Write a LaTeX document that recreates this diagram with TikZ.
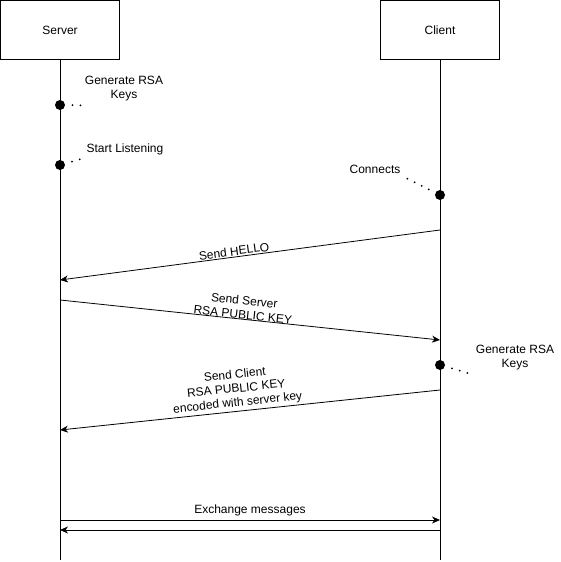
\documentclass[tikz,border=0pt]{standalone}
\usepackage{fontspec}
\setmainfont{Liberation Sans}
\usetikzlibrary{arrows.meta}

\begin{document}
\begin{tikzpicture}[x=1pt,y=-1pt,line width=1pt,
		every node/.style={font=\fontsize{12}{14}\selectfont},
		box/.style={draw,minimum width=119pt,minimum height=59pt,inner sep=0pt},
		event/.style={circle,fill,inner sep=0pt,minimum size=10pt},
		dotline/.style={line width=2pt,dash pattern=on 0pt off 8pt,line cap=round},
		msg/.style={-{Stealth[length=8pt,width=7pt,inset=2.5pt]},line width=0.8pt}]
		\useasboundingbox (0,0) rectangle (561,562);
		% participants
		\node[box] (server) at (60,30) {Server};
		\node[box] (client) at (440,30) {Client};
		\coordinate (serverEnd) at (60,560);
		\coordinate (clientEnd) at (440,560);
		\draw (server.south) -- (serverEnd);
		\draw (client.south) -- (clientEnd);
		% events on the lifelines
		\foreach \name/\point in {keysS/{(60,105)},listen/{(60,165)},connect/{(440,195)},keysC/{(440,365)}} {
				\node[event] (\name) at \point {};
			}
		\node[align=center] (keysSText) at (124,89) {Generate RSA\\Keys};
		\node (listenText) at (125,149) {Start Listening};
		\node (connectText) at (375,169) {Connects};
		\node[align=center] (keysCText) at (515,358) {Generate RSA\\Keys};
		\draw[dotline,shorten <=7pt] (keysS) -- (keysSText.south west);
		\draw[dotline,shorten <=7pt] (listen) -- (listenText.south west);
		\draw[dotline,shorten <=7pt,shorten >=3pt] (connect) -- (connectText.south east);
		\draw[dotline,shorten <=7pt] (keysC) -- (keysCText.south west);
		% messages
		\coordinate (helloFrom) at (440,230);
		\coordinate (helloTo) at (60,280);
		\coordinate (pubSFrom) at (60,300);
		\coordinate (pubSTo) at (440,340);
		\coordinate (pubCFrom) at (440,390);
		\coordinate (pubCTo) at (60,430);
		\coordinate (msgS) at (60,520);
		\coordinate (msgC) at (440,520);
		\coordinate (repS) at (60,530);
		\coordinate (repC) at (440,530);
		\draw[msg] (helloFrom) -- node[pos=0.54,sloped,above,inner sep=1pt] (hello) {Send HELLO} (helloTo);
		\draw[msg] (pubSFrom) -- node[pos=0.48,sloped,above,align=center,inner sep=0pt] (pubS) {Send Server\\RSA PUBLIC KEY} (pubSTo);
		\draw[msg] (pubCFrom) -- node[pos=0.53,sloped,above,align=center,inner sep=2pt] (pubC) {Send Client\\RSA PUBLIC KEY\\encoded with server key} (pubCTo);
		\draw[msg] (msgS) -- node[above,inner sep=4pt] (exchange) {Exchange messages} (msgC);
		\draw[msg] (repC) -- (repS);
	\end{tikzpicture}
\end{document}
